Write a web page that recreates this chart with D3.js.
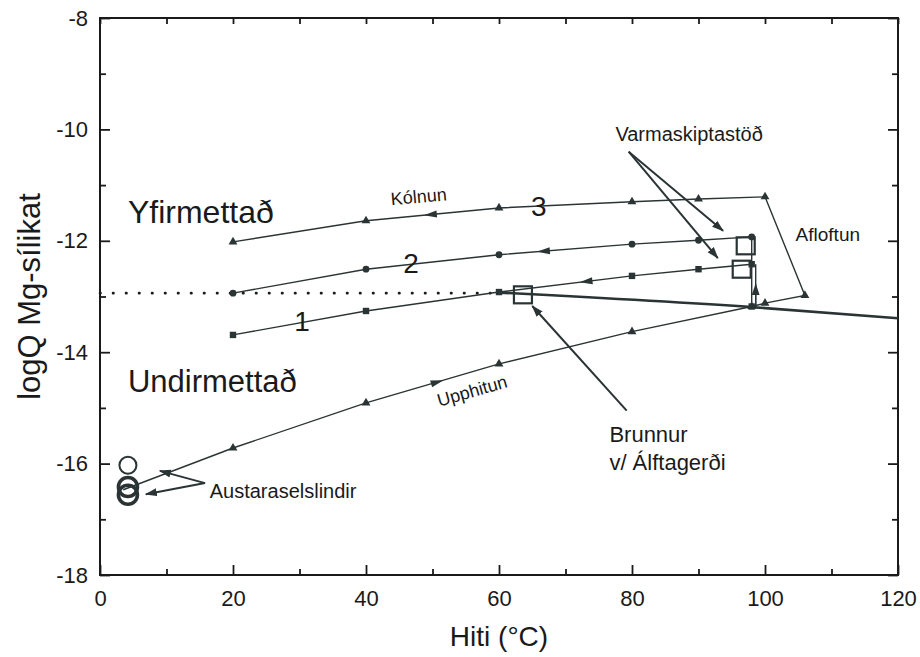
<!DOCTYPE html>
<html>
<head>
<meta charset="utf-8">
<script src="https://cdn.jsdelivr.net/npm/d3@7"></script>
<style>
  body { margin: 0; background: #fff; }
  svg text { font-family: "Liberation Sans", Arial, Helvetica, sans-serif; fill: #1a1a1a; }
</style>
</head>
<body>
<div id="chart"></div>
<script>
// ---- data (temperature in °C, logQ) ----
const tempTicks = [0, 20, 40, 60, 80, 100, 120]
const tempMinor = [10, 30, 50, 70, 90, 110]
const logQTicks = [-18, -16, -14, -12, -10, -8]
const logQMinor = [-17, -15, -13, -11, -9]

// cooling curves (Kólnun)
const cooling3 = [[20, -12.02], [40, -11.64], [60, -11.41], [80, -11.30], [90, -11.25], [100, -11.21]]
const cooling2 = [[20, -12.94], [40, -12.51], [60, -12.25], [80, -12.06], [90, -11.99], [98, -11.93]]
const cooling1 = [[20, -13.69], [40, -13.26], [60, -12.92], [80, -12.63], [90, -12.51], [98, -12.42]]
// degassing (Afloftun)
const degassing = [[100, -11.21], [106, -12.98], [100, -13.12], [98, -13.18]]
const degassingMarks = [[106, -12.98], [100, -13.12]]
// heating (Upphitun)
const heating = [[3.5, -16.47], [20, -15.72], [40, -14.91], [60, -14.21], [80, -13.63], [98, -13.18]]
// vertical links at the heat exchanger
const link2 = [[98, -13.18], [98, -11.93]]
const link1 = [[98.6, -13.18], [98.6, -12.42]]
const linkArrow = [[98.6, -13.18], [98.6, -12.78]]
// equilibrium line and its dotted extension
const equilibrium = [[60, -12.93], [98, -13.19], [120, -13.39]]
const equilibriumExt = [[0, -12.94], [59, -12.94]]
// measured samples
const wells = [[97.1, -12.09], [96.5, -12.51], [63.6, -12.97]]
const springs = [[4.2, -16.03], [4.2, -16.42], [4.2, -16.56]]
// flow direction arrows along the curves
const flowArrows = [
  { curve: cooling3, x: 49.6, dir: -1 },
  { curve: cooling2, x: 66.6, dir: -1 },
  { curve: cooling1, x: 73, dir: -1 },
  { curve: heating, x: 50.8, dir: 1 }
]

const margin = { top: 18, right: 22, bottom: 82, left: 100 }
const width = 920 - margin.left - margin.right
const height = 657 - margin.top - margin.bottom

const x = d3.scaleLinear().domain([0, 120]).range([0, width])
const y = d3.scaleLinear().domain([-18, -8]).range([height, 0])

const svg = d3.select('#chart').append('svg')
  .attr('width', 920)
  .attr('height', 657)

svg.append('defs').append('marker')
  .attr('id', 'head')
  .attr('viewBox', '0 -5 12 10')
  .attr('refX', 11).attr('refY', 0)
  .attr('markerWidth', 12).attr('markerHeight', 10)
  .attr('markerUnits', 'userSpaceOnUse')
  .attr('orient', 'auto')
  .append('path')
  .attr('d', 'M0,-4L12,0L0,4Z')
  .attr('fill', '#2b3434')

const g = svg.append('g')
  .attr('transform', 'translate(' + margin.left + ',' + margin.top + ')')

const line = d3.line()
  .x(function(d) { return x(d[0]) })
  .y(function(d) { return y(d[1]) })

const ink = '#2b3434'

// frame
g.append('rect')
  .attr('width', width).attr('height', height)
  .attr('fill', 'none').attr('stroke', '#1a1a1a').attr('stroke-width', 2)

// axes with inward ticks (plain hyphen for negatives, like the original)
const fmt = function(d) { return String(d) }
function styleAxis(sel) {
  sel.select('.domain').remove()
  sel.selectAll('line').attr('stroke', '#1a1a1a').attr('stroke-width', 1.8)
  sel.selectAll('text').style('font-size', '22px').attr('fill', '#1a1a1a')
}
g.append('g').attr('transform', 'translate(0,' + height + ')')
  .call(d3.axisBottom(x).tickValues(tempTicks).tickFormat(fmt).tickSize(-10).tickPadding(15))
  .call(styleAxis)
g.append('g').attr('transform', 'translate(0,' + height + ')')
  .call(d3.axisBottom(x).tickValues(tempMinor).tickSize(-6).tickFormat(''))
  .call(styleAxis)
g.append('g')
  .call(d3.axisTop(x).tickValues(tempTicks.concat(tempMinor)).tickSize(-6).tickFormat(''))
  .call(styleAxis)
g.append('g')
  .call(d3.axisLeft(y).tickValues(logQTicks).tickFormat(fmt).tickSize(-10).tickPadding(12))
  .call(styleAxis)
g.append('g')
  .call(d3.axisLeft(y).tickValues(logQMinor).tickSize(-6).tickFormat(''))
  .call(styleAxis)
g.append('g').attr('transform', 'translate(' + width + ',0)')
  .call(d3.axisRight(y).tickValues(logQTicks).tickSize(-10).tickFormat(''))
  .call(styleAxis)
g.append('g').attr('transform', 'translate(' + width + ',0)')
  .call(d3.axisRight(y).tickValues(logQMinor).tickSize(-6).tickFormat(''))
  .call(styleAxis)

// axis titles
svg.append('text')
  .attr('x', margin.left + width / 2).attr('y', 646)
  .attr('text-anchor', 'middle')
  .style('font-size', '28px')
  .text('Hiti (°C)')
svg.append('text')
  .attr('transform', 'translate(40,' + (margin.top + height / 2) + ') rotate(-90)')
  .attr('text-anchor', 'middle')
  .style('font-size', '31px')
  .text('logQ  Mg-sílikat')

// dotted extension and equilibrium line
g.append('path').datum(equilibriumExt)
  .attr('d', line).attr('fill', 'none')
  .attr('stroke', '#1a1a1a').attr('stroke-width', 2.6)
  .attr('stroke-linecap', 'round').attr('stroke-dasharray', '0.5,12.5')
g.append('path').datum(equilibrium)
  .attr('d', d3.line().x(d => x(d[0])).y(d => y(d[1])).curve(d3.curveMonotoneX))
  .attr('fill', 'none').attr('stroke', ink).attr('stroke-width', 2.6)

// process lines
;[cooling3, cooling2, cooling1, degassing, heating, link2, link1].forEach(function(d) {
  g.append('path').datum(d)
    .attr('d', line).attr('fill', 'none')
    .attr('stroke', ink).attr('stroke-width', 1.4)
})

// upward arrow on the heat exchanger link
g.append('path').datum(linkArrow)
  .attr('d', line).attr('fill', 'none').attr('stroke', ink).attr('stroke-width', 1.4)
  .attr('marker-end', 'url(#head)')

// flow arrows along curves
flowArrows.forEach(function(a) {
  const c = a.curve
  let i = 1
  while (i < c.length - 1 && c[i][0] < a.x) i++
  const p0 = c[i - 1], p1 = c[i]
  const t = (a.x - p0[0]) / (p1[0] - p0[0])
  const yv = p0[1] + t * (p1[1] - p0[1])
  const ang = Math.atan2(y(p1[1]) - y(p0[1]), x(p1[0]) - x(p0[0])) * 180 / Math.PI + (a.dir < 0 ? 180 : 0)
  g.append('path')
    .attr('d', 'M6,0L-7,-3.5L-7,3.5Z')
    .attr('fill', ink)
    .attr('transform', 'translate(' + x(a.x) + ',' + y(yv) + ') rotate(' + ang + ')')
})

// markers
const tri = d3.symbol().type(d3.symbolTriangle).size(34)
g.selectAll('.tri3').data(cooling3).join('path')
  .attr('d', tri).attr('fill', ink)
  .attr('transform', d => 'translate(' + x(d[0]) + ',' + y(d[1]) + ')')
g.selectAll('.tria').data(degassingMarks).join('path')
  .attr('d', tri).attr('fill', ink)
  .attr('transform', d => 'translate(' + x(d[0]) + ',' + y(d[1]) + ')')
g.selectAll('.trih').data(heating.slice(1)).join('path')
  .attr('d', tri).attr('fill', ink)
  .attr('transform', d => 'translate(' + x(d[0]) + ',' + y(d[1]) + ')')
g.selectAll('.dot2').data(cooling2).join('circle')
  .attr('cx', d => x(d[0])).attr('cy', d => y(d[1])).attr('r', 3.4).attr('fill', ink)
g.selectAll('.sq1').data(cooling1.concat([[98, -13.18]])).join('rect')
  .attr('x', d => x(d[0]) - 3.2).attr('y', d => y(d[1]) - 3.2)
  .attr('width', 6.4).attr('height', 6.4).attr('fill', ink)

// open squares: well / heat exchanger samples
g.selectAll('.well').data(wells).join('rect')
  .attr('x', d => x(d[0]) - 9).attr('y', d => y(d[1]) - 8.5)
  .attr('width', 18).attr('height', 17)
  .attr('fill', 'none').attr('stroke', ink).attr('stroke-width', 2.2)

// open circles: springs
g.selectAll('.spring').data(springs).join('circle')
  .attr('cx', d => x(d[0])).attr('cy', d => y(d[1]))
  .attr('r', (d, i) => i === 0 ? 8.5 : 9.5)
  .attr('fill', 'none').attr('stroke', ink)
  .attr('stroke-width', (d, i) => i === 0 ? 2 : 3.6)

// annotation pointers
const pointers = [
  [[79.5, -10.4], [93.7, -11.82]],
  [[79.5, -10.4], [92.9, -12.31]],
  [[79.2, -15.05], [65, -13.17]],
  [[15.8, -16.35], [9.0, -16.13]],
  [[15.8, -16.35], [6.9, -16.55]]
]
pointers.forEach(function(p) {
  g.append('path').datum(p).attr('d', line)
    .attr('fill', 'none').attr('stroke', ink).attr('stroke-width', 2)
    .attr('marker-end', 'url(#head)')
})

// text labels
const labels = [
  { t: 'Yfirmettað', x: 4.2, y: -11.68, s: 32 },
  { t: 'Undirmettað', x: 4.2, y: -14.72, s: 31 },
  { t: 'Kólnun', x: 43.8, y: -11.36, s: 18, r: -5 },
  { t: '3', x: 64.8, y: -11.55, s: 28 },
  { t: '2', x: 45.6, y: -12.57, s: 28 },
  { t: '1', x: 29.2, y: -13.62, s: 28 },
  { t: 'Varmaskiptastöð', x: 77.5, y: -10.2, s: 20 },
  { t: 'Afloftun', x: 104.6, y: -12.0, s: 19 },
  { t: 'Brunnur', x: 76.6, y: -15.62, s: 22 },
  { t: 'v/ Álftagerði', x: 76.6, y: -16.12, s: 22 },
  { t: 'Austaraselslindir', x: 16.5, y: -16.62, s: 20 },
  { t: 'Upphitun', x: 51, y: -14.98, s: 18, r: -16 }
]
labels.forEach(function(l) {
  g.append('text')
    .attr('transform', 'translate(' + x(l.x) + ',' + y(l.y) + ') rotate(' + (l.r || 0) + ')')
    .style('font-size', l.s + 'px')
    .text(l.t)
})
</script>
</body>
</html>
